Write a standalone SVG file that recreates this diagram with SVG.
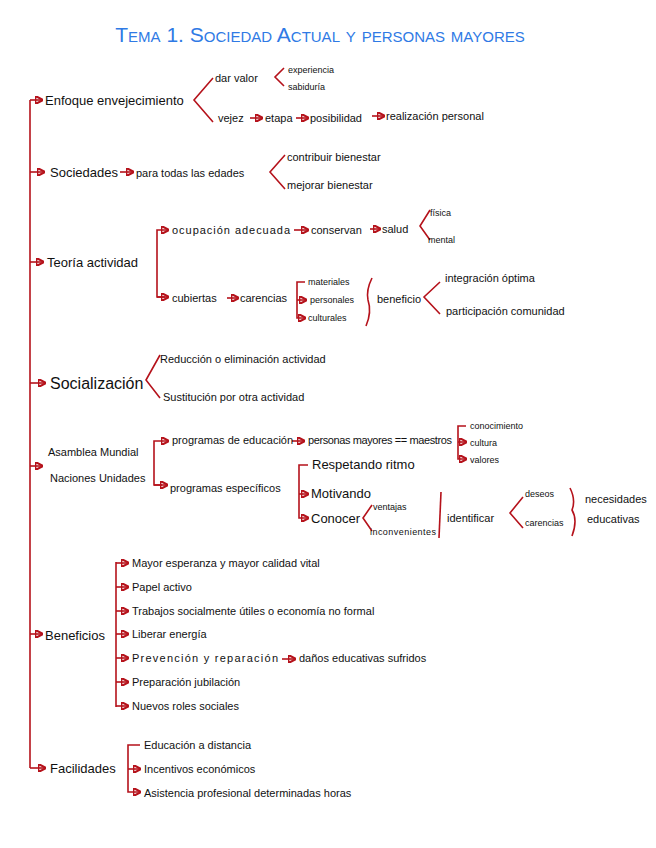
<svg xmlns="http://www.w3.org/2000/svg" width="656" height="848" viewBox="0 0 656 848">
<defs><marker id="a" viewBox="0 0 6 6" refX="5" refY="3" markerWidth="5" markerHeight="5" orient="auto"><path d="M0,0 L6,3 L0,6 z" fill="#b5121b"/></marker></defs>
<style>
text{font-family:"Liberation Sans",sans-serif;fill:#111;font-size:11px}
.m{font-size:13px}.s{font-size:9px}.b{font-size:16px}
.t{fill:#2f7ae5;font-size:21px;font-variant:small-caps}
path,line{stroke:#b5121b;stroke-width:1.6;fill:none}
.ar{marker-end:url(#a)}
</style>
<rect width="656" height="848" fill="#fff"/>
<text class="t" x="320" y="42" text-anchor="middle">Tema 1. Sociedad Actual y personas mayores</text>
<g id="connectors">
<line x1="30" y1="100" x2="30" y2="768"/>
<line class="ar" x1="30" y1="100" x2="42" y2="100"/>
<line class="ar" x1="30" y1="172" x2="44" y2="172"/>
<line class="ar" x1="30" y1="262" x2="43" y2="262"/>
<line class="ar" x1="30" y1="383" x2="45" y2="383"/>
<line class="ar" x1="30" y1="466" x2="42" y2="466"/>
<line class="ar" x1="30" y1="634" x2="42" y2="634"/>
<line class="ar" x1="30" y1="768" x2="45" y2="768"/>
<path d="M213,78 L194,100 L213,122"/><path d="M284,68 L275,77 L284,86"/>
<line class="ar" x1="250" y1="118" x2="262" y2="118"/><line class="ar" x1="296" y1="118" x2="308" y2="118"/><line class="ar" x1="372" y1="116" x2="384" y2="116"/>
<line class="ar" x1="120" y1="172" x2="133" y2="172"/>
<path d="M285,155 L270,172 L285,189"/>
<path class="ar" d="M165,297 L157,297 L157,230 L168,230"/><line class="ar" x1="157" y1="297" x2="168" y2="297"/>
<line class="ar" x1="294" y1="230" x2="308" y2="230"/><line class="ar" x1="370" y1="229" x2="380" y2="229"/>
<path d="M430,210 L420,226 L430,240"/>
<line class="ar" x1="227" y1="298" x2="238" y2="298"/>
<path class="ar" d="M305,282 L297,282 L297,318 L305,318"/><line class="ar" x1="297" y1="300" x2="306" y2="300"/>
<path d="M372,278 Q366,290 368,300 Q372,312 366,326"/>
<path d="M440,282 L424,297 L440,314"/>
<path d="M160,355 L146,380 L160,398"/>
<path class="ar" d="M162,485 L154,485 L154,441 L168,441"/><line class="ar" x1="154" y1="485" x2="167" y2="485"/>
<line class="ar" x1="292" y1="441" x2="304" y2="441"/>
<path class="ar" d="M466,426 L458,426 L458,459 L466,459"/><line class="ar" x1="458" y1="442" x2="466" y2="442"/>
<path class="ar" d="M308,465 L299,465 L299,518 L308,518"/><line class="ar" x1="299" y1="494" x2="308" y2="494"/>
<path d="M372,505 L363,518 L372,531"/>
<line x1="441" y1="492" x2="439" y2="538"/>
<path d="M523,497 L510,513 L523,528"/>
<path d="M570,488 Q576,500 572,510 Q578,520 572,536"/>
<line x1="116" y1="562" x2="116" y2="707"/>
<line class="ar" x1="116" y1="563" x2="128" y2="563"/><line class="ar" x1="116" y1="587" x2="128" y2="587"/><line class="ar" x1="116" y1="611" x2="128" y2="611"/><line class="ar" x1="116" y1="634" x2="128" y2="634"/><line class="ar" x1="116" y1="658" x2="128" y2="658"/><line class="ar" x1="116" y1="682" x2="128" y2="682"/><line class="ar" x1="116" y1="706" x2="128" y2="706"/>
<line class="ar" x1="282" y1="659" x2="295" y2="659"/>
<path class="ar" d="M140,745 L128,745 L128,792 L140,792"/><line class="ar" x1="128" y1="769" x2="140" y2="769"/>
</g>
<g id="n1"><text class="m" x="45" y="105">Enfoque envejecimiento</text><text x="215" y="82">dar valor</text><text class="s" x="288" y="73">experiencia</text><text class="s" x="288" y="90">sabiduría</text><text x="218" y="122">vejez</text><text x="265" y="122">etapa</text><text x="310" y="122">posibilidad</text><text x="386" y="120">realización personal</text></g>
<g id="n2"><text class="m" x="50" y="177">Sociedades</text><text x="136" y="177">para todas las edades</text><text x="287" y="161">contribuir bienestar</text><text x="287" y="189">mejorar bienestar</text></g>
<g id="n3"><text class="m" x="47" y="267">Teoría actividad</text><text x="172" y="234" textLength="118">ocupación adecuada</text><text x="311" y="234">conservan</text><text x="382" y="233">salud</text><text class="s" x="430" y="216">física</text><text class="s" x="428" y="243">mental</text><text x="172" y="302">cubiertas</text><text x="240" y="302">carencias</text><text class="s" x="308" y="285">materiales</text><text class="s" x="310" y="303">personales</text><text class="s" x="308" y="321">culturales</text><text x="377" y="303">beneficio</text><text x="445" y="282">integración óptima</text><text x="446" y="315">participación comunidad</text></g>
<g id="n4"><text class="b" x="50" y="389">Socialización</text><text x="160" y="363">Reducción o eliminación actividad</text><text x="163" y="401">Sustitución por otra actividad</text></g>
<g id="n5"><text x="48" y="456">Asamblea Mundial</text><text x="50" y="482">Naciones Unidades</text><text x="172" y="444">programas de educación</text><text x="308" y="444" textLength="144">personas mayores == maestros</text><text class="s" x="470" y="429">conocimiento</text><text class="s" x="470" y="446">cultura</text><text class="s" x="470" y="463">valores</text><text x="170" y="492">programas específicos</text><text class="m" x="312" y="469">Respetando ritmo</text><text class="m" x="311" y="498">Motivando</text><text class="m" x="311" y="523">Conocer</text><text class="s" x="373" y="510">ventajas</text><text class="s" x="370" y="535" textLength="66">inconvenientes</text><text x="447" y="522">identificar</text><text class="s" x="525" y="497">deseos</text><text class="s" x="525" y="526">carencias</text><text x="585" y="503">necesidades</text><text x="587" y="523">educativas</text></g>
<g id="n6"><text class="m" x="45" y="640">Beneficios</text><text x="132" y="567">Mayor esperanza y mayor calidad vital</text><text x="132" y="591">Papel activo</text><text x="132" y="615">Trabajos socialmente útiles o economía no formal</text><text x="132" y="638">Liberar energía</text><text x="132" y="662" textLength="146">Prevención y reparación</text><text x="299" y="662">daños educativas sufridos</text><text x="132" y="686">Preparación jubilación</text><text x="132" y="710">Nuevos roles sociales</text></g>
<g id="n7"><text class="m" x="50" y="773">Facilidades</text><text x="144" y="749">Educación a distancia</text><text x="144" y="773">Incentivos económicos</text><text x="144" y="797">Asistencia profesional determinadas horas</text></g>
</svg>
